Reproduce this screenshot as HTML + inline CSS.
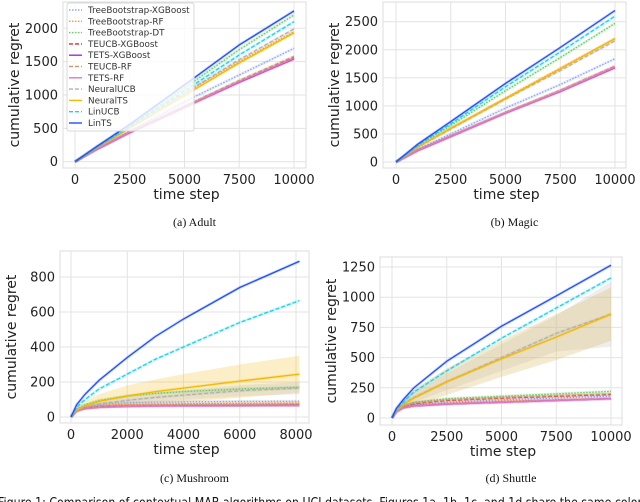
<!DOCTYPE html>
<html><head><meta charset="utf-8">
<style>
html,body{margin:0;padding:0;background:#fff;width:640px;height:502px;overflow:hidden}
svg{display:block}
text{font-family:"DejaVu Sans","Liberation Sans",sans-serif}
.cap{font-family:"Liberation Serif",serif;font-size:12px}
</style></head>
<body>
<svg id="fig" width="640" height="502" viewBox="0 0 640 502" xmlns="http://www.w3.org/2000/svg"></svg>
<script>
const seriesNames=["TreeBootstrap-XGBoost","TreeBootstrap-RF","TreeBootstrap-DT","TEUCB-XGBoost","TETS-XGBoost","TEUCB-RF","TETS-RF","NeuralUCB","NeuralTS","LinUCB","LinTS"];
const seriesColors=["#8fa8f5","#ff9a1a","#66cc66","#e8232b","#9b30d9","#c8a070","#e377c2","#b0b0b0","#f5b800","#1fd0f0","#1f4fff"];
const seriesDash=["1.5,1.5","1.5,1.5","1.5,1.5","4,2","","4,2","","4,2","","4,2",""];

const adultX=[0,1000,2500,5500,7500,10000];
const adultVals=[
[0,200,460,980,1300,1700],
[0,215,520,1120,1500,1950],
[0,225,545,1220,1680,2200],
[0,190,440,900,1200,1560],
[0,185,435,890,1190,1540],
[0,195,445,910,1220,1580],
[0,190,440,895,1200,1550],
[0,215,515,1130,1530,1990],
[0,210,500,1090,1480,1930],
[0,220,530,1170,1600,2100],
[0,230,560,1270,1750,2260]];
const adultYTicks=[0,500,1000,1500,2000];
const adultXTicks=[0,2500,5000,7500,10000];

const magicX=[0,1000,2500,5000,7500,10000];
const magicVals=[
[0,230,500,960,1380,1840],
[0,270,600,1140,1670,2200],
[0,290,650,1270,1860,2470],
[0,210,460,880,1270,1700],
[0,205,455,870,1255,1680],
[0,212,462,885,1280,1710],
[0,208,458,875,1262,1690],
[0,265,590,1120,1630,2160],
[0,270,600,1130,1660,2200],
[0,300,680,1340,1960,2600],
[0,320,720,1400,2040,2700]];
const magicYTicks=[0,500,1000,1500,2000,2500];
const magicXTicks=[0,2500,5000,7500,10000];

const mushX=[0,200,500,1000,2000,3000,4000,6000,8124];
const mushVals=[
[0,40,60,72,82,85,87,89,90],
[0,38,55,65,72,74,76,78,80],
[0,45,70,95,120,135,145,160,170],
[0,35,50,58,63,65,67,68,70],
[0,35,50,58,62,64,65,66,67],
[0,36,52,60,66,68,70,72,74],
[0,34,48,55,60,62,63,64,65],
[0,40,60,75,95,112,125,150,165],
[0,40,65,90,120,145,165,205,245],
[0,55,100,160,245,330,400,540,665],
[0,70,130,210,340,460,560,740,890]];
const mushBandNeuralTS=[0,10,25,40,60,70,80,95,105];
const mushBandNeuralUCB=[0,5,10,15,20,25,28,32,35];
const mushYTicks=[0,200,400,600,800];
const mushXTicks=[0,2000,4000,6000,8000];

const shutX=[0,200,500,1000,2500,5000,7500,10000];
const shutVals=[
[0,60,90,110,130,150,165,180],
[0,55,85,100,120,140,150,160],
[0,65,100,130,160,180,200,220],
[0,60,95,120,145,165,180,195],
[0,50,85,100,115,130,145,160],
[0,60,95,125,150,170,185,200],
[0,50,85,100,115,130,145,160],
[0,70,120,170,300,500,700,860],
[0,60,110,165,300,490,670,860],
[0,70,130,215,390,660,910,1160],
[0,80,150,250,470,760,1010,1265]];
const shutBandNeuralTS=[0,20,40,70,110,150,190,220];
const shutBandNeuralUCB=[0,10,25,40,70,110,150,270];
const shutYTicks=[0,250,500,750,1000,1250];
const shutXTicks=[0,2500,5000,7500,10000];

const NS="http://www.w3.org/2000/svg";
const svg=document.getElementById('fig');
function mk(tag,attrs,parent){const e=document.createElementNS(NS,tag);for(const k in attrs)e.setAttribute(k,attrs[k]);(parent||svg).appendChild(e);return e;}

function plot(key,box,xr,yr,xs,vals,xt,yt,bands,caption){
  const g=mk('g',{});
  
  
  const sx=v=>xr[0]+(v-xr[2])/(xr[3]-xr[2])*(xr[1]-xr[0]);
  const sy=v=>yr[0]+(v-yr[2])/(yr[3]-yr[2])*(yr[1]-yr[0]);
  const bg=mk('rect',{x:box[0],y:box[1],width:box[2]-box[0],height:box[3]-box[1],fill:'#fff',stroke:'#dcdcdc','stroke-width':1},g);
  
  
  xt.forEach(t=>{
    const l=mk('line',{x1:sx(t),x2:sx(t),y1:box[1],y2:box[3],stroke:'#e3e3e3','stroke-width':1},g);
    
    
    const tx=mk('text',{x:sx(t),y:box[3]+16,'font-size':13,'text-anchor':'middle',fill:'#222'},g);
    
    
    tx.textContent=t;
  });
  yt.forEach(t=>{
    const l=mk('line',{x1:box[0],x2:box[2],y1:sy(t),y2:sy(t),stroke:'#e3e3e3','stroke-width':1},g);
    
    
    const tx=mk('text',{x:box[0]-5,y:sy(t)+4.5,'font-size':13,'text-anchor':'end',fill:'#222'},g);
    
    
    tx.textContent=t;
  });
  const xl=mk('text',{x:(box[0]+box[2])/2+2,y:box[3]+31,'font-size':14,'text-anchor':'middle',fill:'#222'},g);
  
  
  xl.textContent='time step';
  const cy=(box[1]+box[3])/2;
  const yl=mk('text',{x:0,y:0,'font-size':14,'text-anchor':'middle',fill:'#222',transform:`translate(${box[0]-44},${cy}) rotate(-90)`},g);
  
  
  yl.textContent='cumulative regret';
  bands.forEach(b=>{
    const v=vals[b.i];
    let pts=xs.map((x,j)=>sx(x)+','+sy(v[j]+b.w[j]));
    pts=pts.concat(xs.map((x,j)=>sx(x)+','+sy(Math.max(0,v[j]-b.w[j]))).reverse());
    const p=mk('polygon',{points:pts.join(' '),fill:b.c,'fill-opacity':0.3,stroke:'none'},g);
    
    
  });
  vals.forEach((v,i)=>{
    const pts=xs.map((x,j)=>sx(x)+','+sy(v[j])).join(' ');
    const h=mk('polyline',{points:pts,fill:'none',stroke:seriesColors[i],'stroke-opacity':0.2,'stroke-width':3},g);
    
    
    const a={points:pts,fill:'none',stroke:seriesColors[i],'stroke-width':1.3};
    if(seriesDash[i])a['stroke-dasharray']=seriesDash[i];
    const p=mk('polyline',a,g);
    
    
  });
  const c=mk('text',{x:(box[0]+box[2])/2+10,y:caption[1],'text-anchor':'middle',class:'cap',fill:'#111'},g);
  
  
  c.textContent=caption[0];
}

plot('adult',[63,2,306,168],[75,294,0,10000],[161.7,28.3,0,2000],adultX,adultVals,adultXTicks,adultYTicks,[],['(a) Adult',226]);
plot('magic',[383,2,626,168],[396,615,0,10000],[162,21.7,0,2500],magicX,magicVals,magicXTicks,magicYTicks,[],['(b) Magic',226]);
plot('mushroom',[60,251,309,423],[71,296,0,8000],[417,277,0,800],mushX,mushVals,mushXTicks,mushYTicks,
 [{i:8,w:mushBandNeuralTS,c:'#f5c842'},{i:7,w:mushBandNeuralUCB,c:'#c0c0c0'}],['(c) Mushroom',482]);
plot('shuttle',[380,257,622,425],[392,611,0,10000],[418,267,0,1250],shutX,shutVals,shutXTicks,shutYTicks,
 [{i:7,w:shutBandNeuralUCB,c:'#c8c8c8'},{i:8,w:shutBandNeuralTS,c:'#d8b860'}],['(d) Shuttle',482]);

const lg=mk('g',{});


mk('rect',{x:67,y:3,width:127,height:128,rx:2,fill:'#fff','fill-opacity':0.8,stroke:'#d8d8d8'},lg);
seriesNames.forEach((n,i)=>{
  const y=10+i*11.3;
  const a={x1:69,x2:82,y1:y,y2:y,stroke:seriesColors[i],'stroke-width':1.4};
  if(seriesDash[i])a['stroke-dasharray']=seriesDash[i];
  const l=mk('line',a,lg);
  
  
  const t=mk('text',{x:88,y:y+3,'font-size':8.8,fill:'#333'},lg);
  
  
  t.textContent=n;
});
const fc=mk('text',{x:-2,y:507,'font-family':'Liberation Serif, serif','font-size':13.5,textLength:644,lengthAdjust:'spacingAndGlyphs',fill:'#111'});


fc.textContent='Figure 1: Comparison of contextual MAB algorithms on UCI datasets. Figures 1a, 1b, 1c, and 1d share the same color';
</script>
</body></html>
